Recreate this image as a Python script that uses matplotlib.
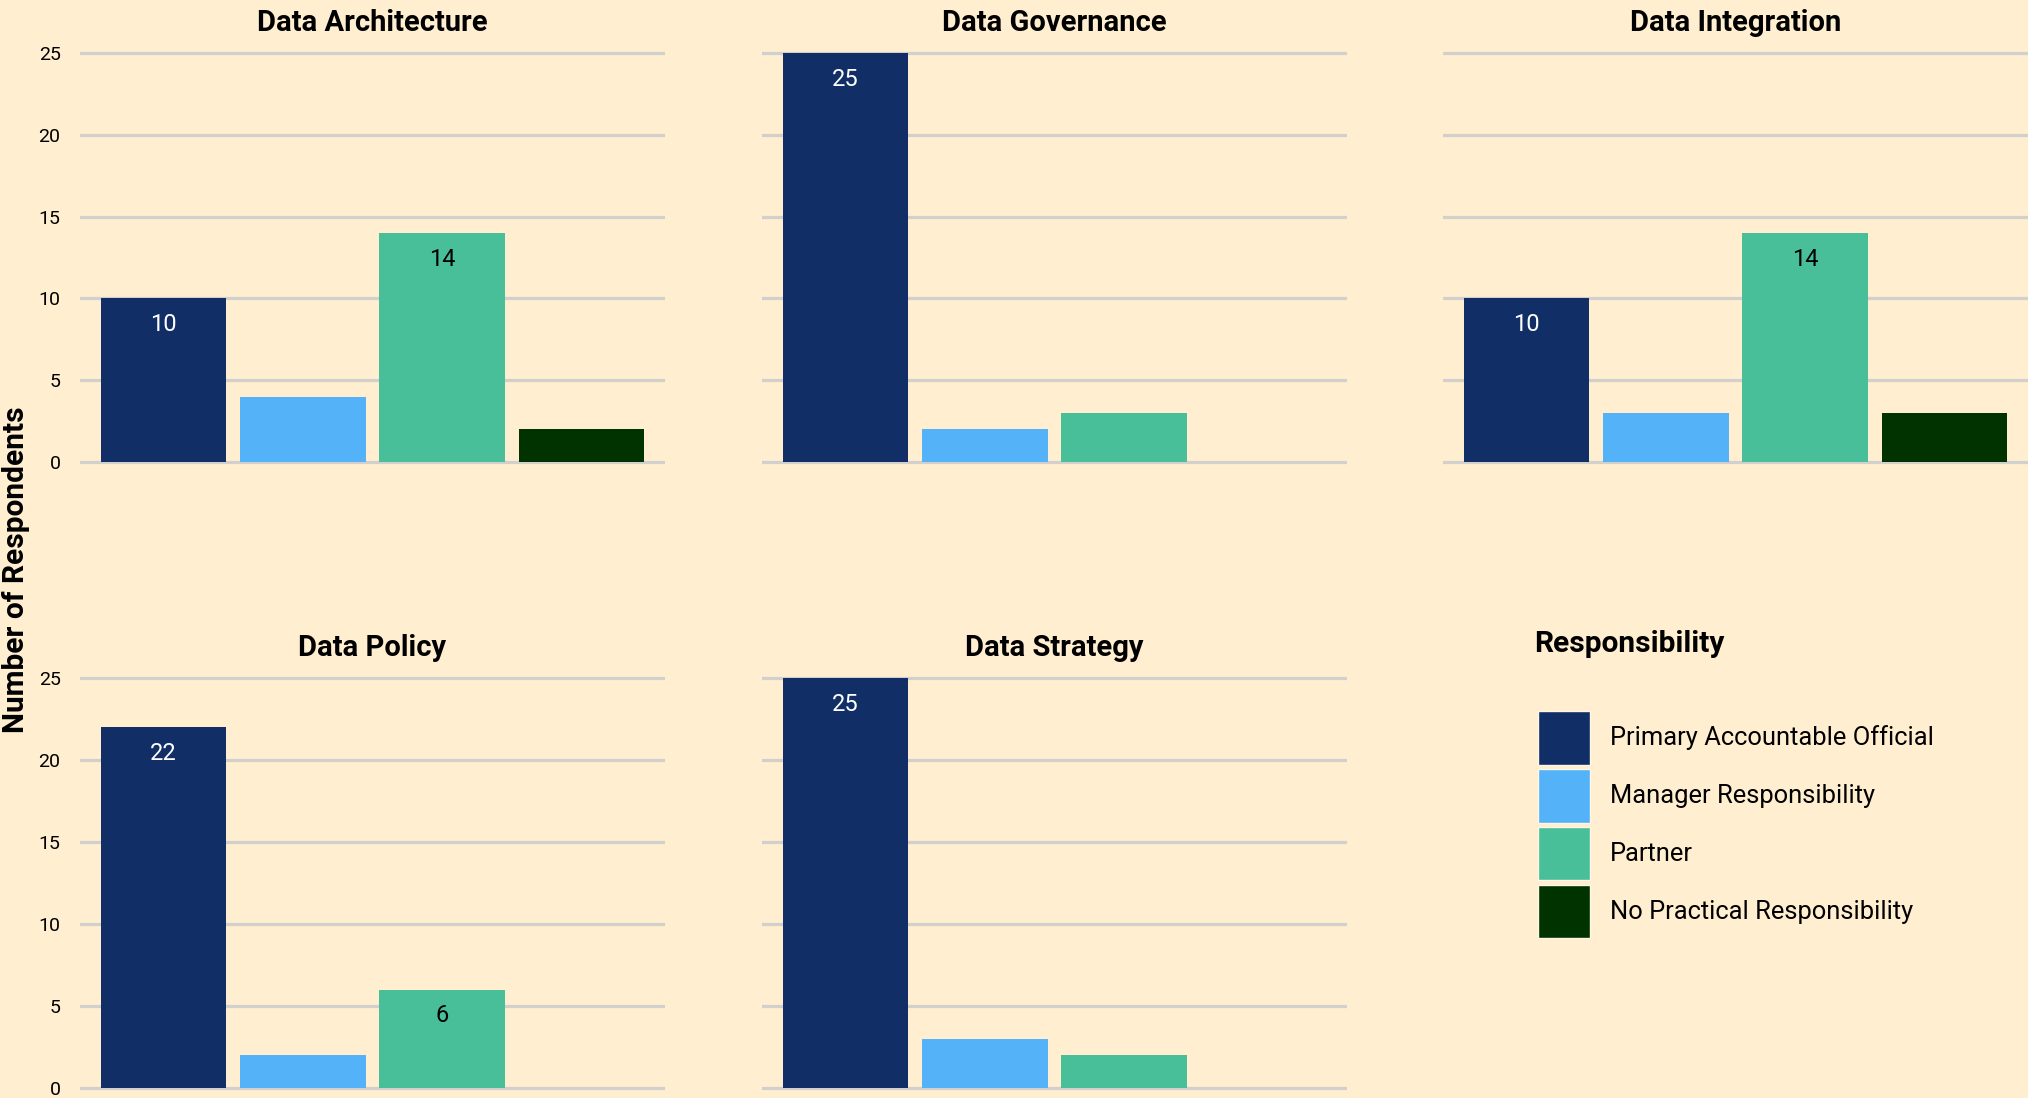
import matplotlib
matplotlib.use("Agg")
import matplotlib.pyplot as plt
from matplotlib.patches import Patch

plt.rcParams['font.family'] = ['Roboto', 'DejaVu Sans']

# data
topics = ["Data Architecture", "Data Governance", "Data Integration",
          "Data Policy", "Data Strategy"]
roles = ["Primary Accountable Official", "Manager Responsibility",
         "Partner", "No Practical Responsibility"]
arch = [10, 4, 14, 2]
gov = [25, 2, 3, 0]
integ = [10, 3, 14, 3]
policy = [22, 2, 6, 0]
strategy = [25, 3, 2, 0]
values = [arch, gov, integ, policy, strategy]

colors = ["#112E67", "#53B2F8", "#48BF98", "#003300"]
label_colors = ["white", "black", "black", "white"]
bg = "#FFEFD0"
grid_c = "#D2D0CC"

W, H = 2028, 1098
fig = plt.figure(figsize=(W / 100, H / 100), dpi=100)
fig.patch.set_facecolor(bg)

lefts = [80, 762, 1443]
aw = 585
rows = [(49.7, 465.3), (674.7, 1091.3)]

for i, name in enumerate(topics):
    r, c = divmod(i, 3)
    top, bot = rows[r]
    ax = fig.add_axes([lefts[c] / W, 1 - bot / H, aw / W, (bot - top) / H])
    ax.set_facecolor(bg)
    v = values[i]
    x = list(range(len(roles)))
    ax.bar(x, v, width=0.9, color=colors, zorder=3)
    for xi, vi in zip(x, v):
        if vi > 5:
            ax.text(xi, vi - 1.6, str(vi), ha='center', va='center',
                    fontsize=17, color=label_colors[xi], zorder=4)
    ax.set_xlim(-0.6, 3.6)
    ax.set_ylim(-0.2, 25.2)
    ax.set_yticks([0, 5, 10, 15, 20, 25])
    ax.set_xticks([])
    for y in [0, 5, 10, 15, 20, 25]:
        ax.axhline(y, color=grid_c, lw=2.3, zorder=1)
    for s in ax.spines.values():
        s.set_visible(False)
    ax.tick_params(axis='y', length=0, pad=14, labelsize=14)
    if c != 0:
        ax.set_yticklabels([])
    ax.set_title(name, fontsize=21, fontweight='bold', pad=13.5)

fig.text(16 / W, 1 - 570 / H, "Number of Respondents", rotation=90,
         ha='center', va='center', fontsize=21.5, fontweight='bold')

fig.text(1534 / W, 1 - 644 / H, "Responsibility", ha='left', va='center',
         fontsize=21.5, fontweight='bold')

handles = [Patch(facecolor=c, edgecolor='#FFF6E6', lw=1) for c in colors]
fig.legend(handles, roles, loc='upper left',
           bbox_to_anchor=(1538 / W, 1 - 711 / H), frameon=False,
           fontsize=18.4, handlelength=2.03, handleheight=2.85,
           labelspacing=0.17, handletextpad=0.78, borderpad=0,
           borderaxespad=0)

fig.savefig("out.png", dpi=100, facecolor=bg)
